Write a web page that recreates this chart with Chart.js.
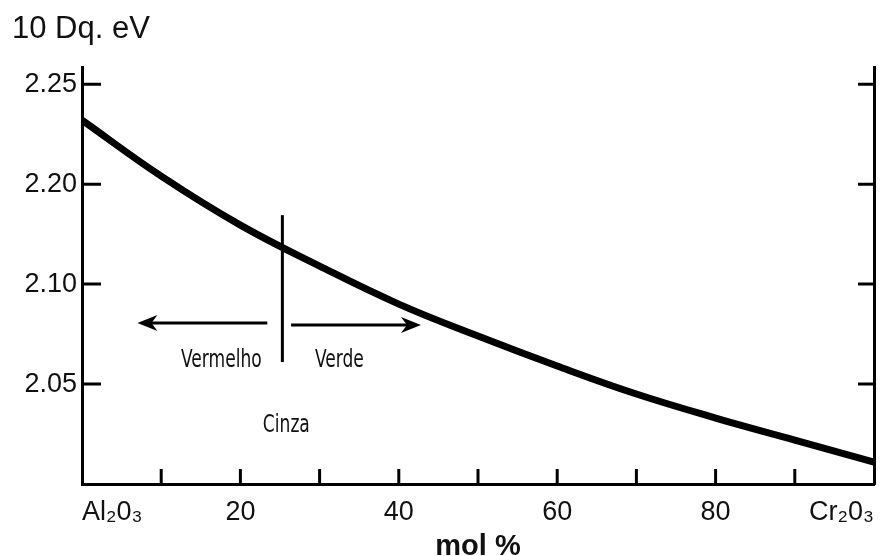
<!DOCTYPE html>
<html>
<head>
<meta charset="utf-8">
<title>10 Dq vs mol %</title>
<script src="https://cdn.jsdelivr.net/npm/chart.js@4.4.1/dist/chart.umd.min.js"></script>
<style>
  html, body { margin: 0; padding: 0; background: #fff; }
  #wrap { width: 886px; height: 556px; }
</style>
</head>
<body>
<div id="wrap"><canvas id="chart"></canvas></div>
<script>
// composition, mol % Cr2O3 in Al2O3
const molPercent = [0, 10, 20, 30, 40, 50, 60, 70, 80, 90, 100];
// crystal field splitting 10 Dq, eV
const tenDq = [2.232, 2.204, 2.159, 2.118, 2.090, 2.074, 2.059, 2.045, 2.033, 2.022, 2.011];

// the y axis is drawn with evenly spaced steps; each step has its own eV value
const yTickLabels = ['2.05', '2.10', '2.20', '2.25'];
const yStepValues = [2.00, 2.05, 2.10, 2.20, 2.25];

const xTickValues = [0, 20, 40, 60, 80, 100];
const xTickLabels = ['Al₂0₃', '20', '40', '60', '80', 'Cr₂0₃'];

// colour change boundary and the two colour regions
const boundary = { x: 25.3, from: 2.061, to: 2.169 };
const arrowFrom = [23.4, 26.4];
const arrowTo = [7.0, 42.8];
const arrowAt = [2.0806, 2.0796];
const regionNames = ['Vermelho', 'Verde', 'Cinza'];
const regionX = [17.6, 32.5, 25.8];
const regionY = [2.062, 2.062, 2.0295];

// eV -> axis step (piecewise linear between the labelled steps)
function evToStep(v) {
  const n = yStepValues.length;
  for (let i = 1; i < n; i++) {
    if (v <= yStepValues[i] || i === n - 1) {
      const a = yStepValues[i - 1], b = yStepValues[i];
      return i - 1 + (v - a) / (b - a);
    }
  }
}

const TOP_STEP = 4.17;
const sansFont = '"Liberation Sans", Arial, Helvetica, sans-serif';
const narrowFont = '"DejaVu Sans Condensed", "Liberation Sans Narrow", sans-serif';

const decor = {
  id: 'decor',
  afterDatasetsDraw(chart) {
    const { ctx, scales: { x, y, y2 } } = chart;
    const px = v => x.getPixelForValue(v);
    const py = v => y.getPixelForValue(evToStep(v));
    ctx.save();
    ctx.strokeStyle = '#000';
    ctx.fillStyle = '#000';
    ctx.lineWidth = 3;

    // inward tick marks
    ctx.beginPath();
    x.ticks.forEach(t => {
      if (t.value <= x.min || t.value >= x.max) return;
      const xx = px(t.value);
      ctx.moveTo(xx, x.top);
      ctx.lineTo(xx, x.top - 15);
    });
    y.ticks.forEach(t => {
      if (t.value < 1 || !Number.isInteger(t.value)) return;
      const yy = y.getPixelForValue(t.value);
      ctx.moveTo(y.right, yy);
      ctx.lineTo(y.right + 19, yy);
      ctx.moveTo(y2.left, yy);
      ctx.lineTo(y2.left - 16, yy);
    });
    ctx.stroke();

    // boundary line
    ctx.beginPath();
    ctx.moveTo(px(boundary.x), py(boundary.from));
    ctx.lineTo(px(boundary.x), py(boundary.to));
    ctx.stroke();

    // arrows
    arrowFrom.forEach((from, i) => {
      const x0 = px(from), x1 = px(arrowTo[i]), yy = py(arrowAt[i]);
      const dir = Math.sign(x1 - x0);
      ctx.beginPath();
      ctx.moveTo(x0, yy);
      ctx.lineTo(x1 - dir * 12, yy);
      ctx.stroke();
      ctx.beginPath();
      ctx.moveTo(x1, yy);
      ctx.lineTo(x1 - dir * 20, yy - 8);
      ctx.lineTo(x1 - dir * 14, yy);
      ctx.lineTo(x1 - dir * 20, yy + 8);
      ctx.closePath();
      ctx.fill();
    });

    // region labels, squeezed to a tall narrow face
    ctx.fillStyle = '#111';
    ctx.font = '25px ' + narrowFont;
    ctx.textAlign = 'center';
    ctx.textBaseline = 'middle';
    regionNames.forEach((name, i) => {
      ctx.save();
      ctx.translate(px(regionX[i]), py(regionY[i]));
      ctx.scale(0.76, 1);
      ctx.fillText(name, 0, 0);
      ctx.restore();
    });
    ctx.restore();
  }
};

new Chart(document.getElementById('chart'), {
  type: 'line',
  data: {
    datasets: [{
      data: molPercent.map((m, i) => ({ x: m, y: evToStep(tenDq[i]) })),
      borderColor: '#000',
      borderWidth: 7,
      tension: 0.4,
      pointRadius: 0,
      fill: false
    }]
  },
  options: {
    responsive: true,
    maintainAspectRatio: false,
    animation: false,
    layout: { padding: { left: 12, right: 0, top: 0, bottom: 0 } },
    plugins: {
      legend: { display: false },
      tooltip: { enabled: false },
      title: {
        display: true,
        text: '10 Dq. eV',
        align: 'start',
        color: '#111',
        font: { family: sansFont, size: 31, weight: 'normal' },
        padding: { top: 11, bottom: 19 }
      }
    },
    scales: {
      x: {
        type: 'linear',
        position: 'bottom',
        min: 0,
        max: 100,
        grid: { display: false, drawTicks: false },
        border: { display: true, color: '#000', width: 3 },
        ticks: {
          stepSize: 10,
          align: 'inner',
          autoSkip: false,
          maxRotation: 0,
          padding: 12,
          color: '#111',
          font: { family: sansFont, size: 27 },
          callback: v => {
            const i = xTickValues.indexOf(v);
            return i >= 0 ? xTickLabels[i] : '';
          }
        },
        title: {
          display: true,
          text: 'mol %',
          color: '#111',
          font: { family: sansFont, size: 29, weight: 'bold', lineHeight: 0.6 },
          padding: 0
        },
        afterFit: s => { s.height = 72; }
      },
      y: {
        type: 'linear',
        position: 'left',
        min: 0,
        max: TOP_STEP,
        grid: { display: false, drawTicks: false },
        border: { display: true, color: '#000', width: 3 },
        ticks: {
          stepSize: 1,
          includeBounds: false,
          padding: 5,
          color: '#111',
          font: { family: sansFont, size: 27 },
          callback: v => (v >= 1 && Number.isInteger(v)) ? yTickLabels[v - 1] : ''
        },
        afterFit: s => { s.width = 70; }
      },
      y2: {
        type: 'linear',
        position: 'right',
        min: 0,
        max: TOP_STEP,
        grid: { display: false, drawTicks: false },
        border: { display: true, color: '#000', width: 3 },
        ticks: { display: false, stepSize: 1, includeBounds: false },
        afterFit: s => { s.width = 10; }
      }
    }
  },
  plugins: [decor]
});
</script>
</body>
</html>
